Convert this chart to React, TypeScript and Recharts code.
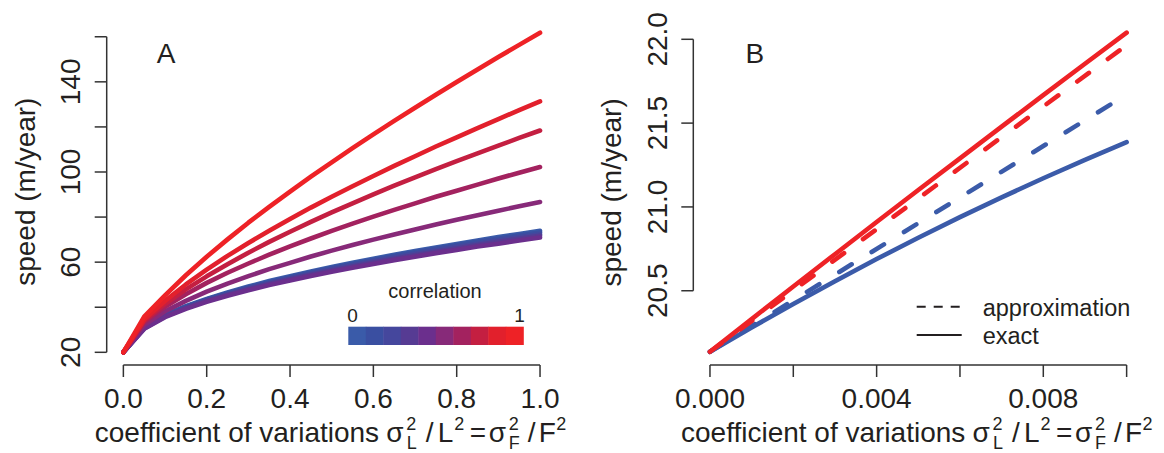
import React from "react";
import { LineChart, Line, XAxis, YAxis, ReferenceLine } from "recharts";

const FONT = "'Liberation Sans', Arial, Helvetica, sans-serif";
const INK = "#231f20";
const AXIS = "#333333";

// ---------- panel A: speed against CV, one curve per correlation ----------
const cvA = [0, 0.05, 0.1, 0.15, 0.2, 0.25, 0.3, 0.35, 0.4, 0.45, 0.5, 0.55, 0.6, 0.65, 0.7, 0.75, 0.8, 0.85, 0.9, 0.95, 1];

const speedCorr1 = [20, 31.2, 36.6, 40.5, 43.7, 46.6, 49.2, 51.6, 53.8, 55.9, 57.8, 59.7, 61.5, 63.3, 64.9, 66.5, 68.1, 69.6, 71.1, 72.5, 73.9];
const speedCorr2 = [20, 31.0, 36.3, 40.2, 43.4, 46.2, 48.8, 51.1, 53.3, 55.4, 57.4, 59.2, 61.0, 62.7, 64.4, 65.9, 67.5, 69.0, 70.4, 71.8, 73.2];
const speedCorr3 = [20, 30.8, 36.1, 39.9, 43.1, 45.8, 48.4, 50.7, 52.8, 54.9, 56.8, 58.6, 60.4, 62.1, 63.7, 65.2, 66.8, 68.2, 69.7, 71.0, 72.4];
const speedCorr4 = [20, 30.6, 35.9, 39.6, 42.8, 45.5, 48.0, 50.3, 52.4, 54.4, 56.3, 58.1, 59.8, 61.5, 63.1, 64.6, 66.1, 67.6, 69.0, 70.4, 71.7];
const speedCorr5 = [20, 30.4, 35.6, 39.3, 42.4, 45.1, 47.5, 49.8, 51.9, 53.9, 55.7, 57.5, 59.2, 60.9, 62.4, 64.0, 65.4, 66.9, 68.2, 69.6, 70.9];
const speedCorr6 = [20, 32.2, 38.2, 42.8, 46.9, 50.5, 53.8, 56.9, 59.7, 62.5, 65.1, 67.6, 70.0, 72.3, 74.5, 76.7, 78.8, 80.8, 82.8, 84.8, 86.7];
const speedCorr7 = [20, 33.3, 40.2, 45.8, 50.8, 55.3, 59.4, 63.3, 67.0, 70.5, 73.9, 77.1, 80.2, 83.2, 86.1, 89.0, 91.7, 94.4, 97.1, 99.7, 102.2];
const speedCorr8 = [20, 34.0, 41.4, 47.9, 53.7, 59.1, 64.2, 69.0, 73.5, 77.9, 82.1, 86.1, 90.1, 93.9, 97.6, 101.3, 104.8, 108.3, 111.7, 115.1, 118.4];
const speedCorr9 = [20, 34.6, 42.8, 50.1, 56.7, 62.8, 68.5, 73.9, 79.1, 84.2, 89.0, 93.7, 98.2, 102.7, 107.0, 111.3, 115.4, 119.5, 123.5, 127.4, 131.3];
const speedCorr10 = [20, 35.8, 45.3, 54.2, 62.4, 70.1, 77.5, 84.5, 91.3, 97.9, 104.3, 110.6, 116.7, 122.7, 128.5, 134.3, 139.9, 145.5, 151.0, 156.4, 161.8];

const corrColors = ["#3a5ba9", "#3a4fa1", "#45479d", "#563b93", "#6b2f8d", "#872a79", "#a3225f", "#c41f41", "#e2202c", "#ee2226"];

const xTicksA = [0, 0.2, 0.4, 0.6, 0.8, 1];
const yTicksA = [20, 40, 60, 80, 100, 120, 140, 160];
const yLabelsA = [20, 60, 100, 140];

// ---------- panel B: small CV, exact vs approximation ----------
const cvB = [0, 0.001, 0.002, 0.003, 0.004, 0.005, 0.006, 0.007, 0.008, 0.009, 0.01];
const exactBlue = [20.136, 20.281, 20.421, 20.557, 20.689, 20.816, 20.939, 21.057, 21.171, 21.281, 21.386];
const exactRed = [20.136, 20.331, 20.525, 20.718, 20.91, 21.101, 21.29, 21.479, 21.667, 21.854, 22.04];
const cvApprox = [0, 0.01];
const approxBlue = [20.136, 21.67];
const approxRed = [20.136, 21.965];

const xTicksB = [0, 0.002, 0.004, 0.006, 0.008, 0.01];
const xLabelsB = [0, 0.004, 0.008];
const yTicksB = [20.5, 21, 21.5, 22];

const BLUE = "#3b5ba9";
const RED = "#ee2226";

const curvesA = [speedCorr1, speedCorr2, speedCorr3, speedCorr4, speedCorr5, speedCorr6, speedCorr7, speedCorr8, speedCorr9, speedCorr10];
const rowsA = cvA.map((x, i) => {
  const row: { [k: string]: number } = { x };
  curvesA.forEach((c, j) => {
    row[`c${j + 1}`] = c[i];
  });
  return row;
});

const toRows = (xs: number[], ys: number[]) => xs.map((x, i) => ({ x, v: ys[i] }));

const xDomA = [-0.04, 1.04];
const yDomA = [14.37, 168.1];
const xDomB = [-0.0004, 0.0104];
const yDomB = [20.057, 22.116];

const isLabel = (labels: number[], v: number) => labels.some((l) => Math.abs(l - v) < 1e-9);

const makeXTick = (labels: number[], digits: number) => (props: any) => {
  const { x, y, payload } = props;
  const v = payload.value;
  return (
    <g>
      {isLabel(labels, v) && (
        <text x={x} y={y + 31} textAnchor="middle" fontSize={28} fontFamily={FONT} fill={INK}>
          {v.toFixed(digits)}
        </text>
      )}
    </g>
  );
};

const makeYTick = (labels: number[], digits: number) => (props: any) => {
  const { x, y, payload } = props;
  const v = payload.value;
  const bx = x - 14.6;
  return (
    <g>
      {isLabel(labels, v) && (
        <text
          x={bx}
          y={y}
          transform={`rotate(-90 ${bx} ${y})`}
          textAnchor="middle"
          fontSize={28}
          fontFamily={FONT}
          fill={INK}
        >
          {v.toFixed(digits)}
        </text>
      )}
    </g>
  );
};

// x axis title with sub/superscripts, laid out like R plotmath
const XTitle = ({ left }: { left: number }) => (
  <g fontFamily={FONT} fill={INK}>
    <text x={left} y={441.5} fontSize={28}>coefficient of variations</text>
    <text x={left + 291.5} y={441.5} fontSize={28}>σ</text>
    <text x={left + 311.5} y={430} fontSize={18}>2</text>
    <text x={left + 312} y={449} fontSize={18}>L</text>
    <text x={left + 331} y={441.5} fontSize={28}>/</text>
    <text x={left + 343} y={441.5} fontSize={28}>L</text>
    <text x={left + 359.5} y={430} fontSize={18}>2</text>
    <text x={left + 375} y={441.5} fontSize={28}>=</text>
    <text x={left + 394} y={441.5} fontSize={28}>σ</text>
    <text x={left + 414} y={430} fontSize={18}>2</text>
    <text x={left + 414} y={449} fontSize={18}>F</text>
    <text x={left + 433} y={441.5} fontSize={28}>/</text>
    <text x={left + 444} y={441.5} fontSize={28}>F</text>
    <text x={left + 461.5} y={430} fontSize={18}>2</text>
  </g>
);

const YTitle = ({ x, y }: { x: number; y: number }) => (
  <text
    x={x}
    y={y}
    transform={`rotate(-90 ${x} ${y})`}
    textAnchor="middle"
    fontSize={28}
    fontFamily={FONT}
    fill={INK}
  >
    speed (m/year)
  </text>
);

export default function App() {
  return (
    <div style={{ position: "absolute", left: 0, top: 0, width: 1164, height: 453, background: "#fff" }}>
      <div style={{ position: "absolute", left: 0, top: 0 }}>
        <LineChart width={582} height={453} data={rowsA} margin={{ top: 18.5, right: 25.3, bottom: 0, left: 0 }}>
          <XAxis
            type="number"
            dataKey="x"
            domain={xDomA}
            allowDataOverflow
            ticks={xTicksA}
            interval={0}
            height={88}
            tickSize={12}
            tickMargin={0}
            axisLine={false}
            tickLine={{ stroke: AXIS, strokeWidth: 1.5 }}
            tick={makeXTick(xTicksA, 1)}
          />
          <YAxis
            type="number"
            domain={yDomA}
            allowDataOverflow
            ticks={yTicksA}
            interval={0}
            width={106.7}
            tickSize={12}
            tickMargin={0}
            axisLine={false}
            tickLine={{ stroke: AXIS, strokeWidth: 1.5 }}
            tick={makeYTick(yLabelsA, 0)}
          />
          <ReferenceLine
            segment={[{ x: 0, y: yDomA[0] }, { x: 1, y: yDomA[0] }]}
            stroke={AXIS}
            strokeWidth={1.5}
            ifOverflow="visible"
          />
          <ReferenceLine
            segment={[{ x: xDomA[0], y: 20 }, { x: xDomA[0], y: 160 }]}
            stroke={AXIS}
            strokeWidth={1.5}
            ifOverflow="visible"
          />
          {curvesA.map((_, j) => (
            <Line
              key={j}
              type="linear"
              dataKey={`c${j + 1}`}
              stroke={corrColors[j]}
              strokeWidth={4.6}
              strokeLinecap="round"
              strokeLinejoin="round"
              dot={false}
              activeDot={false}
              isAnimationActive={false}
            />
          ))}
        </LineChart>
      </div>

      <div style={{ position: "absolute", left: 582, top: 0 }}>
        <LineChart width={582} height={453} margin={{ top: 19.85, right: 20.7, bottom: 0, left: 0 }}>
          <XAxis
            type="number"
            dataKey="x"
            domain={xDomB}
            allowDataOverflow
            ticks={xTicksB}
            interval={0}
            height={88}
            tickSize={12}
            tickMargin={0}
            axisLine={false}
            tickLine={{ stroke: AXIS, strokeWidth: 1.5 }}
            tick={makeXTick(xLabelsB, 3)}
          />
          <YAxis
            type="number"
            domain={yDomB}
            allowDataOverflow
            ticks={yTicksB}
            interval={0}
            width={111.3}
            tickSize={12}
            tickMargin={0}
            axisLine={false}
            tickLine={{ stroke: AXIS, strokeWidth: 1.5 }}
            tick={makeYTick(yTicksB, 1)}
          />
          <ReferenceLine
            segment={[{ x: 0, y: yDomB[0] }, { x: 0.01, y: yDomB[0] }]}
            stroke={AXIS}
            strokeWidth={1.5}
            ifOverflow="visible"
          />
          <ReferenceLine
            segment={[{ x: xDomB[0], y: 20.5 }, { x: xDomB[0], y: 22 }]}
            stroke={AXIS}
            strokeWidth={1.5}
            ifOverflow="visible"
          />
          <Line data={toRows(cvB, exactBlue)} type="linear" dataKey="v" stroke={BLUE} strokeWidth={4.6} strokeLinecap="round" dot={false} activeDot={false} isAnimationActive={false} />
          <Line data={toRows(cvB, exactRed)} type="linear" dataKey="v" stroke={RED} strokeWidth={4.6} strokeLinecap="round" dot={false} activeDot={false} isAnimationActive={false} />
          <Line data={toRows(cvApprox, approxBlue)} type="linear" dataKey="v" stroke={BLUE} strokeWidth={4.6} strokeLinecap="round" strokeDasharray="14.5 23.5" dot={false} activeDot={false} isAnimationActive={false} />
          <Line data={toRows(cvApprox, approxRed)} type="linear" dataKey="v" stroke={RED} strokeWidth={4.6} strokeLinecap="round" strokeDasharray="14.5 23.5" dot={false} activeDot={false} isAnimationActive={false} />
        </LineChart>
      </div>

      <svg width={1164} height={453} style={{ position: "absolute", left: 0, top: 0, pointerEvents: "none" }}>
        <YTitle x={35} y={191.7} />
        <YTitle x={621.5} y={192.4} />
        <XTitle left={94.8} />
        <XTitle left={681} />

        <text x={156.7} y={63.3} fontSize={28} fontFamily={FONT} fill={INK}>A</text>
        <text x={745.5} y={63.3} fontSize={28} fontFamily={FONT} fill={INK}>B</text>

        {/* correlation colour bar */}
        <text x={388.3} y={298.3} fontSize={20} fontFamily={FONT} fill={INK}>correlation</text>
        <text x={352.5} y={321.7} textAnchor="middle" fontSize={19} fontFamily={FONT} fill={INK}>0</text>
        <text x={519.5} y={321.7} textAnchor="middle" fontSize={19} fontFamily={FONT} fill={INK}>1</text>
        {corrColors.map((c, i) => (
          <rect key={c} x={348.3 + i * 17.5} y={326.7} width={18} height={18.3} fill={c} />
        ))}

        {/* line type legend */}
        <line x1={916.7} x2={961.7} y1={306.7} y2={306.7} stroke={INK} strokeWidth={2} strokeDasharray="9 8" />
        <line x1={916.7} x2={961.7} y1={335} y2={335} stroke={INK} strokeWidth={2} />
        <text x={982.7} y={316} fontSize={23.5} fontFamily={FONT} fill={INK}>approximation</text>
        <text x={982.7} y={344} fontSize={23.5} fontFamily={FONT} fill={INK}>exact</text>
      </svg>
    </div>
  );
}
